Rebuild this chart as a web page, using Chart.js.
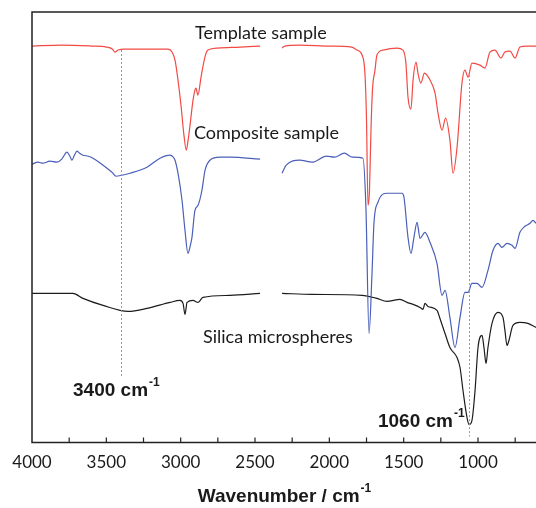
<!DOCTYPE html>
<html>
<head>
<meta charset="utf-8">
<script src="https://cdn.jsdelivr.net/npm/chart.js@4"></script>
<style>
  html, body { margin: 0; padding: 0; background: #fff; }
  #wrap { width: 536px; height: 508px; }
</style>
</head>
<body>
<div id="wrap"><canvas id="ftirChart" width="536" height="508"></canvas></div>
<script>
// wavenumbers (cm-1) and transmittance (arbitrary units, offset per curve); null = axis break
const templateWn = [4000, 3800, 3600, 3500, 3460, 3442, 3420, 3380, 3200, 3085, 3058, 3038, 3018, 2998, 2978, 2962, 2950, 2937, 2917, 2904, 2897, 2884, 2863, 2837, 2816, 2750, 2600, 2466, 2400,
  2318, 2300, 2200, 2000, 1850, 1814, 1780, 1760, 1750, 1740, 1730, 1720, 1710, 1693, 1680, 1639, 1545, 1505, 1485, 1471, 1451, 1437, 1417, 1404, 1385, 1360, 1323, 1289, 1269, 1242, 1218, 1189, 1168, 1141, 1108, 1088, 1067, 1041, 987, 953, 920, 886, 846, 819, 785, 751, 718, 671, 610];
const templateT = [396, 397, 396, 395, 393, 390, 392, 393, 393, 393, 390, 382, 362, 337, 307, 292, 302, 317, 342, 352, 354, 347, 365, 385, 392, 394, 395, 396, null,
  394, 396, 397, 396, 395, 392, 387, 367, 322, 237, 252, 312, 352, 372, 387, 392, 394, 392, 379, 345, 333, 362, 380, 369, 359, 369, 362, 349, 329, 312, 324, 302, 269, 295, 359, 372, 365, 379, 377, 374, 390, 392, 384, 390, 391, 384, 395, 396, 396];

const compositeWn = [4000, 3960, 3926, 3880, 3832, 3800, 3791, 3765, 3745, 3731, 3715, 3697, 3680, 3657, 3620, 3590, 3522, 3462, 3435, 3395, 3341, 3227, 3139, 3072, 3050, 3038, 3018, 2991, 2971, 2951, 2935, 2924, 2904, 2883, 2857, 2836, 2803, 2736, 2668, 2466, 2400,
  2318, 2290, 2200, 2115, 2020, 1966, 1899, 1845, 1774, 1754, 1733, 1713, 1700, 1673, 1612, 1511, 1498, 1471, 1451, 1431, 1410, 1390, 1357, 1323, 1276, 1242, 1222, 1189, 1155, 1121, 1088, 1067, 1041, 1007, 973, 933, 899, 866, 839, 805, 772, 751, 718, 684, 650, 630, 610];
const compositeT = [278, 280, 279, 281, 280, 283, 285, 290, 286, 282, 287, 291, 289, 287, 286, 284, 277, 270, 266, 267, 269, 275, 284, 287, 285, 282, 269, 242, 212, 189, 197, 205, 232, 237, 252, 272, 282, 285, 285, 283, null,
  269, 277, 282, 280, 286, 285, 289, 285, 284, 235, 109, 169, 219, 240, 249, 249, 245, 205, 189, 205, 220, 204, 210, 200, 179, 147, 152, 125, 95, 125, 150, 150, 159, 159, 155, 172, 192, 199, 195, 199, 197, 194, 210, 216, 219, 222, 219];

const silicaWn = [4000, 3724, 3657, 3522, 3354, 3226, 3072, 3005, 2984, 2971, 2957, 2917, 2883, 2850, 2668, 2466, 2400,
  2318, 2115, 1780, 1680, 1612, 1525, 1478, 1437, 1390, 1370, 1357, 1337, 1276, 1256, 1222, 1189, 1141, 1121, 1101, 1074, 1060, 1041, 1020, 1000, 973, 960, 946, 933, 906, 866, 832, 819, 805, 792, 765, 718, 664, 610];
const silicaT = [149, 149, 144, 137, 131, 134, 140, 142, 139, 128, 140, 142, 140, 145, 147, 149, null,
  149, 148, 147, 144, 141, 143, 140, 138, 135, 133, 139, 136, 132, 124, 109, 95, 85, 75, 52, 25, 18, 22, 52, 95, 107, 95, 79, 95, 119, 130, 125, 112, 97, 102, 117, 120, 119, 115];

const seriesNames = ['Template sample', 'Composite sample', 'Silica microspheres'];
const markedBands = [3400, 1060];
const majorTicks = [4000, 3500, 3000, 2500, 2000, 1500, 1000];
const minorTicks = [3750, 3250, 2750, 2250, 1750, 1250, 750];

function pts(wn, t) {
  return wn.map((w, i) => ({ x: w, y: t[i] }));
}

const boldFont = '"Liberation Sans", Arial, sans-serif';
const textFont = 'Lato, "Open Sans", sans-serif';

function supText(ctx, main, sup, x, y) {
  ctx.font = 'bold 19px ' + boldFont;
  ctx.textAlign = 'left';
  ctx.textBaseline = 'middle';
  ctx.fillText(main, x, y);
  const w = ctx.measureText(main).width;
  ctx.font = 'bold 12px ' + boldFont;
  ctx.fillText(sup, x + w + 1, y - 8);
}

const decor = {
  id: 'decor',
  afterDraw(chart) {
    const { ctx, chartArea: a, scales: { x, y } } = chart;
    ctx.save();
    // frame: left, top, bottom
    ctx.strokeStyle = '#222';
    ctx.lineWidth = 1.5;
    ctx.beginPath();
    ctx.moveTo(a.right, a.top);
    ctx.lineTo(a.left, a.top);
    ctx.lineTo(a.left, a.bottom);
    ctx.lineTo(a.right, a.bottom);
    ctx.stroke();
    // inward ticks
    ctx.lineWidth = 1.2;
    ctx.beginPath();
    majorTicks.concat(minorTicks).forEach(v => {
      const px = x.getPixelForValue(v);
      if (px <= a.left + 1 || px >= a.right) return;
      ctx.moveTo(px, a.bottom);
      ctx.lineTo(px, a.bottom - 5);
    });
    ctx.stroke();

    // dotted marker lines
    ctx.strokeStyle = '#999';
    ctx.lineWidth = 1;
    ctx.setLineDash([2, 2]);
    const lineSpans = [[392, 65], [367, 6]];
    markedBands.forEach((b, i) => {
      const px = Math.round(x.getPixelForValue(b)) + 0.5;
      ctx.beginPath();
      ctx.moveTo(px, y.getPixelForValue(lineSpans[i][0]));
      ctx.lineTo(px, y.getPixelForValue(lineSpans[i][1]));
      ctx.stroke();
    });
    ctx.setLineDash([]);

    // series labels
    ctx.fillStyle = '#1a1a1a';
    ctx.font = '18px ' + textFont;
    ctx.textAlign = 'left';
    ctx.textBaseline = 'middle';
    const labelPos = [[2904, 409], [2911, 309], [2850, 105]];
    seriesNames.forEach((n, i) => {
      ctx.fillText(n, x.getPixelForValue(labelPos[i][0]), y.getPixelForValue(labelPos[i][1]));
    });

    // band labels
    const bandPos = [[3724, 52], [1673, 21]];
    markedBands.forEach((b, i) => {
      supText(ctx, b + ' cm', '-1', x.getPixelForValue(bandPos[i][0]), y.getPixelForValue(bandPos[i][1]));
    });

    // axis title
    ctx.font = 'bold 19px ' + boldFont;
    const main = 'Wavenumber / cm';
    const w = ctx.measureText(main).width;
    ctx.font = 'bold 12px ' + boldFont;
    const ws = ctx.measureText('-1').width;
    const cx = (a.left + a.right) / 2;
    supText(ctx, main, '-1', cx - (w + ws) / 2, 497);
    ctx.restore();
  }
};

const ctx = document.getElementById('ftirChart').getContext('2d');
new Chart(ctx, {
  type: 'line',
  data: {
    datasets: [
      { label: seriesNames[0], data: pts(templateWn, templateT), borderColor: '#f24a44', borderWidth: 1.2 },
      { label: seriesNames[1], data: pts(compositeWn, compositeT), borderColor: '#4a5fb8', borderWidth: 1.2 },
      { label: seriesNames[2], data: pts(silicaWn, silicaT), borderColor: '#1c1c1c', borderWidth: 1.2 }
    ]
  },
  options: {
    responsive: false,
    animation: false,
    spanGaps: false,
    elements: {
      point: { radius: 0 },
      line: { cubicInterpolationMode: 'monotone', fill: false }
    },
    layout: { padding: { left: 32, top: 12, right: 0, bottom: 25 } },
    scales: {
      x: {
        type: 'linear',
        reverse: true,
        min: 610,
        max: 4000,
        grid: { display: false, drawTicks: false },
        border: { display: false },
        afterBuildTicks: (s) => { s.ticks = majorTicks.map(v => ({ value: v })); },
        ticks: {
          autoSkip: false,
          maxRotation: 0,
          padding: 10,
          color: '#1a1a1a',
          font: { family: textFont, size: 17 },
          callback: (v) => String(v)
        }
      },
      y: { display: false, min: 0, max: 430 }
    },
    plugins: {
      legend: { display: false },
      tooltip: { enabled: false }
    }
  },
  plugins: [decor]
});
</script>
</body>
</html>
